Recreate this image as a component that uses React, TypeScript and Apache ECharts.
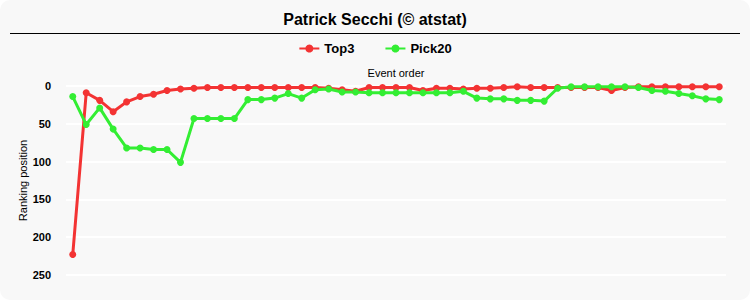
import React, { useEffect, useRef } from "react";
import * as echarts from "echarts";

const events = [
  "1", "2", "3", "4", "5", "6", "7", "8", "9", "10",
  "11", "12", "13", "14", "15", "16", "17", "18", "19", "20",
  "21", "22", "23", "24", "25", "26", "27", "28", "29", "30",
  "31", "32", "33", "34", "35", "36", "37", "38", "39", "40",
  "41", "42", "43", "44", "45", "46", "47", "48", "49",
];

const top3 = [
  223, 9, 19, 34, 21, 14, 11, 6, 4, 3,
  2, 2, 2, 2, 2, 2, 2, 2, 2, 3,
  5, 7, 2, 2, 2, 2, 6, 3, 3, 4,
  3, 3, 2, 1, 2, 2, 2, 2, 2, 2,
  6, 2, 1, 1, 1, 1, 1, 1, 1,
];

const pick20 = [
  14, 51, 29, 57, 82, 82, 84, 84, 101, 43,
  43, 43, 43, 18, 18, 16, 10, 16, 5, 4,
  8, 8, 9, 9, 9, 9, 9, 9, 9, 7,
  16, 17, 17, 19, 19, 20, 3, 1, 1, 1,
  1, 1, 2, 6, 7, 10, 13, 17, 18,
];

const yTicks = { min: 0, max: 250, interval: 50 };

const RED = "#f33333";
const GREEN = "#33ee33";
const FONT = "'Liberation Sans', Arial, sans-serif";

export default function App() {
  const ref = useRef<HTMLDivElement>(null);

  useEffect(() => {
    if (!ref.current) return;
    const chart = echarts.init(ref.current, null, { renderer: "svg" });
    chart.setOption({
      animation: false,
      backgroundColor: "transparent",
      textStyle: { fontFamily: FONT },
      title: {
        text: "Patrick Secchi (© atstat)",
        left: "center",
        top: 6,
        textStyle: { fontSize: 16, fontWeight: "bold", color: "#000", fontFamily: FONT },
      },
      graphic: [
        {
          type: "line",
          shape: { x1: 10, y1: 33.5, x2: 740, y2: 33.5 },
          style: { stroke: "#000", lineWidth: 1 },
          silent: true,
        },
      ],
      legend: {
        top: 37,
        left: "center",
        itemGap: 30,
        itemWidth: 20,
        itemHeight: 10,
        textStyle: { fontSize: 13, fontWeight: "bold", color: "#000", fontFamily: FONT },
        data: ["Top3", "Pick20"],
      },
      grid: { left: 66, right: 24, top: 86, bottom: 25, containLabel: false },
      xAxis: {
        type: "category",
        position: "top",
        data: events,
        boundaryGap: true,
        name: "Event order",
        nameLocation: "middle",
        nameGap: 8,
        nameTextStyle: { fontSize: 11, color: "#000", fontFamily: FONT },
        axisLine: { show: false },
        axisTick: { show: false },
        axisLabel: { show: false },
        splitLine: { show: false },
      },
      yAxis: {
        type: "value",
        inverse: true,
        min: yTicks.min,
        max: yTicks.max,
        interval: yTicks.interval,
        name: "Ranking position",
        nameLocation: "middle",
        nameGap: 38,
        nameMoveOverlap: false,
        nameTextStyle: { fontSize: 11, color: "#000", fontFamily: FONT },
        axisLine: { show: false },
        axisTick: { show: false },
        axisLabel: { fontSize: 11, fontWeight: "bold", color: "#000", margin: 15, fontFamily: FONT },
        splitLine: { show: true, lineStyle: { color: "#ffffff", width: 2 } },
      },
      series: [
        {
          name: "Top3",
          type: "line",
          data: top3,
          symbol: "circle",
          symbolSize: 7,
          color: RED,
          lineStyle: { color: RED, width: 3 },
          itemStyle: { color: RED },
        },
        {
          name: "Pick20",
          type: "line",
          data: pick20,
          symbol: "circle",
          symbolSize: 7,
          color: GREEN,
          lineStyle: { color: GREEN, width: 3 },
          itemStyle: { color: GREEN },
        },
      ],
    });
    return () => chart.dispose();
  }, []);

  return (
    <div
      style={{
        position: "fixed",
        left: 0,
        top: 0,
        width: 750,
        height: 300,
        background: "#f8f8f8",
        borderRadius: 10,
        overflow: "hidden",
      }}
    >
      <div ref={ref} style={{ width: 750, height: 300 }} />
    </div>
  );
}
